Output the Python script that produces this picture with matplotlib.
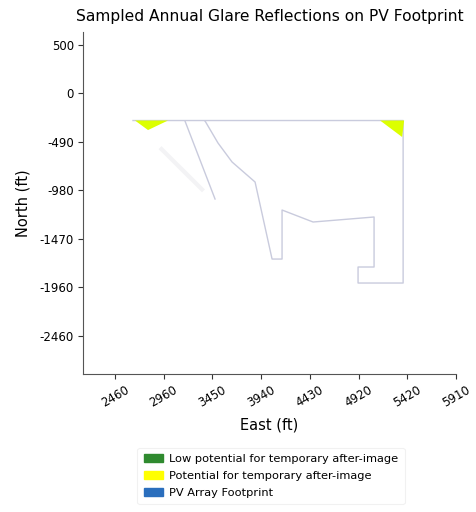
import numpy as np
import matplotlib
matplotlib.use("Agg")
import matplotlib.pyplot as plt
from matplotlib.patches import Patch

# ---- data ----
title = "Sampled Annual Glare Reflections on PV Footprint"
x_tick_labels = ["2460", "2960", "3450", "3940", "4430", "4920", "5420", "5910"]
y_tick_labels = ["500", "0", "-490", "-980", "-1470", "-1960", "-2460"]

# PV footprint outline (east, north in ft)
footprint_x = [3371, 3502, 3644, 3877, 4049, 4150, 4150, 4464, 5081, 5081,
               4919, 4919, 5375, 5375, 2642]
footprint_y = [-274, -498, -691, -895, -1679, -1679, -1180, -1302, -1251, -1760,
               -1760, -1923, -1923, -269, -269]
inner_x = [3168, 3472]
inner_y = [-274, -1068]
faint_x = [2930, 3340]
faint_y = [-560, -970]

# glare regions (potential for temporary after-image)
glare_left_x = [2662, 2996, 2794]
glare_left_y = [-269, -269, -366]
glare_right_x = [5142, 5385, 5365]
glare_right_y = [-269, -269, -437]

legend_labels = ["Low potential for temporary after-image",
                 "Potential for temporary after-image",
                 "PV Array Footprint"]
legend_colors = ["#2f8a2f", "#ffff00", "#2a6ebd"]

# ---- figure ----
fig = plt.figure(figsize=(4.77, 5.12), dpi=100)
ax = fig.add_axes([83/477, 1-374/512, (456-83)/477, (374-32)/512])

ax.plot(footprint_x, footprint_y, color="#c9cbdd", lw=1.0, zorder=2)
ax.plot(inner_x, inner_y, color="#c9cbdd", lw=1.0, zorder=2)
ax.plot(faint_x, faint_y, color="#f3f3f5", lw=3, zorder=1)
ax.fill(glare_left_x, glare_left_y, color="#dcff00", lw=0, zorder=3)
ax.fill(glare_right_x, glare_right_y, color="#dcff00", lw=0, zorder=3)

ax.set_xlim(2136, 5910)
ax.set_ylim(-2849, 632)

ax.set_xticks(np.linspace(2460, 5910, len(x_tick_labels)))
ax.set_xticklabels(x_tick_labels, rotation=30, fontsize=8.5)
ax.set_yticks(np.linspace(500, -2460, len(y_tick_labels)))
ax.set_yticklabels(y_tick_labels, fontsize=8.5)
ax.tick_params(length=3.5, width=0.8, color="#333333", pad=3)

for s in ["top", "right"]:
    ax.spines[s].set_visible(False)
for s in ["left", "bottom"]:
    ax.spines[s].set_color("#555555")
    ax.spines[s].set_linewidth(0.8)

ax.set_xlabel("East (ft)", fontsize=10.5, labelpad=6)
ax.set_ylabel("North (ft)", fontsize=10.5, labelpad=7)
ax.set_title(title, fontsize=11.2, pad=8)

handles = [Patch(facecolor=c, edgecolor=c) for c in legend_colors]
leg = fig.legend(handles, legend_labels, loc="upper center",
                 bbox_to_anchor=(0.568, 0.137), fontsize=8.2, frameon=True,
                 handlelength=1.75, handleheight=0.7, borderpad=0.55,
                 labelspacing=0.62, handletextpad=0.5)
leg.get_frame().set_edgecolor("#eeeeee")
leg.get_frame().set_linewidth(0.8)

fig.savefig("out.png", dpi=100)
